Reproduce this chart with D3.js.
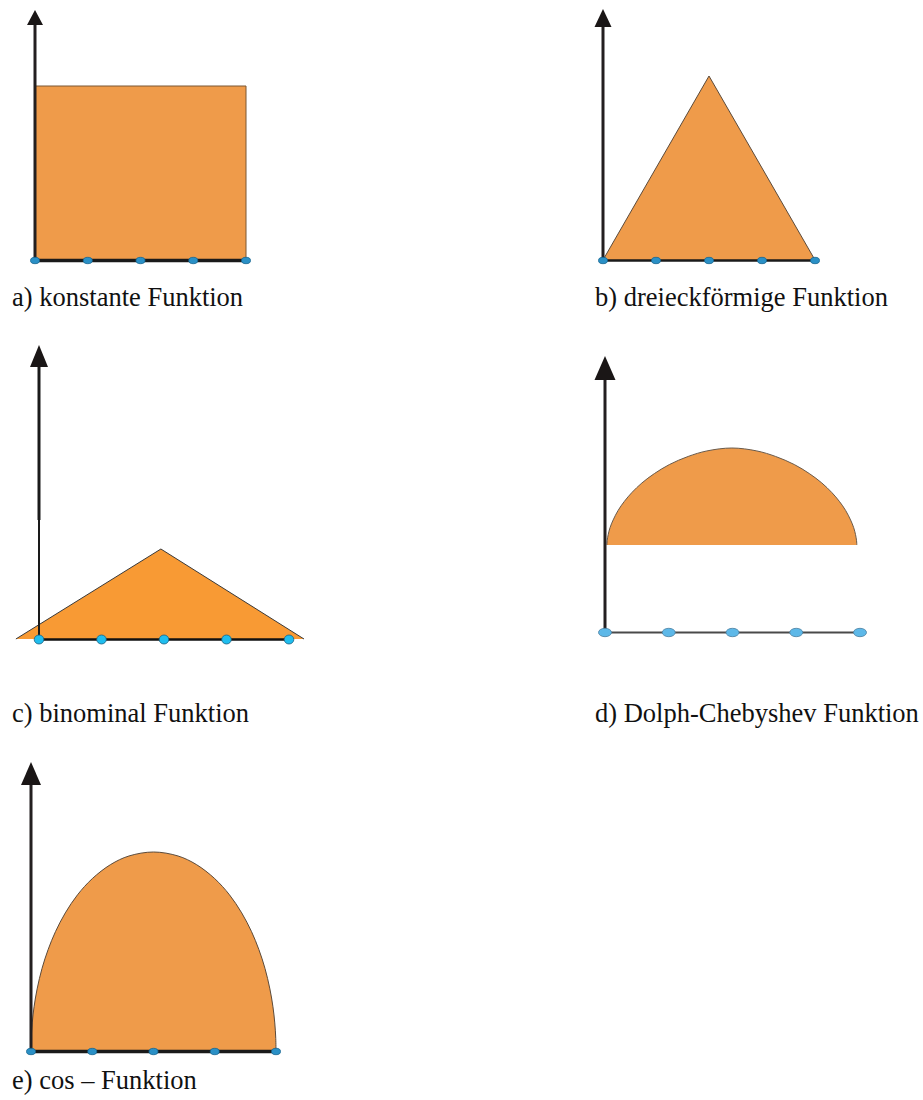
<!DOCTYPE html>
<html>
<head>
<meta charset="utf-8">
<script src="https://cdn.jsdelivr.net/npm/d3@7/dist/d3.min.js"></script>
<style>
  html, body { margin: 0; padding: 0; background: #ffffff; }
  svg { display: block; }
  .cap { font-family: "Liberation Serif", "Times New Roman", Times, serif; font-size: 26.5px; fill: #111; }
</style>
</head>
<body>
<svg id="chart" width="923" height="1100"></svg>
<script>
// ---------- data (element positions 0..4, normalised amplitudes) ----------
const elementPositions = [0, 1, 2, 3, 4];
const labels = [
  "a) konstante Funktion",
  "b) dreieckförmige Funktion",
  "c) binominal Funktion",
  "d) Dolph-Chebyshev Funktion",
  "e) cos \u2013 Funktion"
];
// a) constant
const constantX = [0, 4];
const constantY = [1, 1];
// b) triangle
const triangleX = [0, 2, 4];
const triangleY = [0, 1, 0];
// c) binomial (flat triangle extending past the outer elements)
const binomialX = [-0.37, 1.95, 4.24];
const binomialY = [0, 1, 0];
// d) Dolph-Chebyshev (dome sitting on a pedestal)
const dolphBase = 0.473;
const dolphX = [0.03, 0.034, 0.050, 0.079, 0.128, 0.206, 0.304, 0.422, 0.579, 0.775, 1.01, 1.304, 1.598, 1.99,
                2.382, 2.676, 2.97, 3.205, 3.401, 3.558, 3.676, 3.774, 3.852, 3.901, 3.93, 3.946, 3.95];
const dolphY = [0.473, 0.496, 0.529, 0.567, 0.609, 0.661, 0.710, 0.758, 0.810, 0.861, 0.910, 0.954, 0.984, 1.0,
                0.984, 0.954, 0.910, 0.861, 0.810, 0.758, 0.710, 0.661, 0.609, 0.567, 0.529, 0.496, 0.473];
// e) cosine
const cosX = [0, 0.004, 0.02, 0.05, 0.1, 0.18, 0.28, 0.4, 0.56, 0.76, 1.0, 1.3, 1.6, 2.0,
              2.4, 2.7, 3.0, 3.24, 3.44, 3.6, 3.72, 3.82, 3.9, 3.95, 3.98, 3.996, 4.0];
const cosY = [0, 0.063, 0.141, 0.222, 0.312, 0.415, 0.510, 0.600, 0.694, 0.785, 0.866, 0.937, 0.980, 1.0,
              0.980, 0.937, 0.866, 0.785, 0.694, 0.600, 0.510, 0.415, 0.312, 0.222, 0.141, 0.063, 0];

// ---------- layout / style ----------
const panels = [
  { xs: constantX, ys: constantY, base: 0, curve: d3.curveLinear,
    x0: 35, x1: 246, yBase: 260, yPeak: 86, tip: 10, headLen: 15, headHalf: 8,
    fill: "#EF9B4A", outline: "#7a5632", axisW: 3, baseW: 3.5, baseColor: "#1a1a1a",
    dot: { rx: 4.5, ry: 3.2, fill: "#2A90C6", stroke: "#17658f" },
    label: { x: 12, y: 306 } },
  { xs: triangleX, ys: triangleY, base: 0, curve: d3.curveLinear,
    x0: 603, x1: 815, yBase: 260, yPeak: 76, tip: 9, headLen: 18, headHalf: 8.5,
    fill: "#EF9B4A", outline: "#5b4a3a", axisW: 3, baseW: 2.5, baseColor: "#1a1a1a",
    dot: { rx: 4.5, ry: 3.2, fill: "#2A90C6", stroke: "#17658f" },
    label: { x: 595, y: 306 } },
  { xs: binomialX, ys: binomialY, base: 0, curve: d3.curveLinear,
    x0: 39, x1: 289, yBase: 639, yPeak: 549, tip: 345, headLen: 22, headHalf: 9,
    fill: "#F89A34", outline: "#3a3a3a", axisW: 3, baseW: 2.5, baseColor: "#111111", thinFrom: 520,
    dot: { rx: 4.8, ry: 4.5, fill: "#1FBDEE", stroke: "#1d5f7f" },
    label: { x: 12, y: 722 } },
  { xs: dolphX, ys: dolphY, base: dolphBase, curve: d3.curveCatmullRom.alpha(0.5),
    x0: 605, x1: 860, yBase: 632, yPeak: 448, tip: 356, headLen: 24, headHalf: 10.5,
    fill: "#EF9B4A", outline: "#6a5a4a", axisW: 3, baseW: 2, baseColor: "#4a4a4a",
    dot: { rx: 6.5, ry: 4.2, fill: "#5DB8E8", stroke: "#4b7f9f" },
    label: { x: 595, y: 722 } },
  { xs: cosX, ys: cosY, base: 0, curve: d3.curveCatmullRom.alpha(0.5),
    x0: 31, x1: 276, yBase: 1051, yPeak: 852, tip: 762, headLen: 23, headHalf: 10,
    fill: "#EF9B4A", outline: "#5b4a3a", axisW: 3, baseW: 3.5, baseColor: "#1a1a1a",
    dot: { rx: 4.5, ry: 3.2, fill: "#2A90C6", stroke: "#17658f" },
    label: { x: 12, y: 1089 } }
];

const svg = d3.select("#chart");

panels.forEach((p, i) => {
  const g = svg.append("g");
  const x = d3.scaleLinear().domain([0, 4]).range([p.x0, p.x1]);
  const y = d3.scaleLinear().domain([0, 1]).range([p.yBase, p.yPeak]);
  const pts = p.xs.map((v, k) => [v, p.ys[k]]);

  // filled shape: outline path closed along the base value
  const line = d3.line().x(d => x(d[0])).y(d => y(d[1])).curve(p.curve);
  const top = line(pts);
  const closed = top + `L${x(p.xs[p.xs.length - 1])},${y(p.base)}L${x(p.xs[0])},${y(p.base)}Z`;
  g.append("path")
    .attr("d", closed)
    .attr("fill", p.fill)
    .attr("stroke", "none");
  g.append("path")
    .attr("d", top)
    .attr("fill", "none")
    .attr("stroke", p.outline)
    .attr("stroke-width", 1);
  if (i === 0) {
    g.append("line")
      .attr("x1", x(4)).attr("x2", x(4))
      .attr("y1", y(1)).attr("y2", y(0))
      .attr("stroke", p.outline).attr("stroke-width", 1);
  }

  // vertical axis with arrow
  const ax = x(0);
  const headBase = p.tip + p.headLen;
  if (p.thinFrom) {
    g.append("line").attr("x1", ax).attr("x2", ax)
      .attr("y1", p.yBase).attr("y2", p.thinFrom)
      .attr("stroke", "#1a1a1a").attr("stroke-width", 2);
    g.append("line").attr("x1", ax).attr("x2", ax)
      .attr("y1", p.thinFrom).attr("y2", headBase - 1)
      .attr("stroke", "#1a1a1a").attr("stroke-width", p.axisW);
  } else {
    g.append("line").attr("x1", ax).attr("x2", ax)
      .attr("y1", p.yBase).attr("y2", headBase - 1)
      .attr("stroke", "#231F20").attr("stroke-width", p.axisW);
  }
  g.append("path")
    .attr("d", `M${ax},${p.tip} L${ax - p.headHalf},${headBase} L${ax + p.headHalf},${headBase} Z`)
    .attr("fill", "#1a1616");

  // baseline
  g.append("line")
    .attr("x1", x(0)).attr("x2", x(4))
    .attr("y1", p.yBase + 0.5).attr("y2", p.yBase + 0.5)
    .attr("stroke", p.baseColor).attr("stroke-width", p.baseW);

  // element dots
  g.selectAll("ellipse.el").data(elementPositions).enter()
    .append("ellipse")
    .attr("class", "el")
    .attr("cx", d => x(d))
    .attr("cy", p.yBase + 0.5)
    .attr("rx", p.dot.rx).attr("ry", p.dot.ry)
    .attr("fill", p.dot.fill)
    .attr("stroke", p.dot.stroke).attr("stroke-width", 0.8);

  // caption
  g.append("text")
    .attr("class", "cap")
    .attr("x", p.label.x)
    .attr("y", p.label.y)
    .text(labels[i]);
});
</script>
</body>
</html>
